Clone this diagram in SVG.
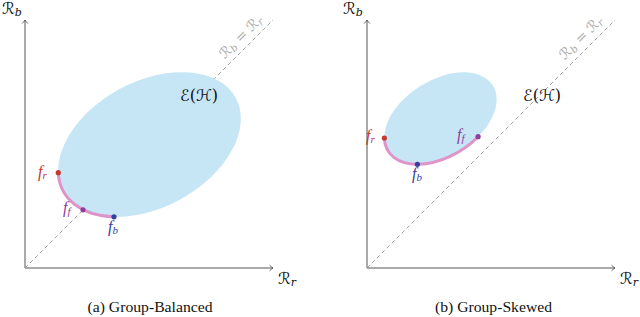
<svg xmlns="http://www.w3.org/2000/svg" width="640" height="317" viewBox="0 0 640 317">
<style>
.axis{stroke:#555;stroke-width:1;fill:none}
.diag{stroke:#9a9a9a;stroke-width:0.9;stroke-dasharray:4 3;fill:none}
.region{fill:#C6E6F6;stroke:none}
.front{stroke:#DE93C9;stroke-width:3;fill:none;stroke-linecap:round}
.math{font-family:"DejaVu Serif","DejaVu Sans",serif;font-size:16px;fill:#111}
.diaglab{font-family:"DejaVu Serif","DejaVu Sans",serif;font-size:14px;fill:#aaa}
.f{font-family:"Liberation Serif",serif;font-style:italic;font-size:16px}
.sub{font-size:11px}
.cap{font-family:"Liberation Serif",serif;font-size:14.5px;fill:#111}
.red{fill:#C4392B}.pur{fill:#8E3D9C}.blu{fill:#34409E}
</style>
<defs>
<marker id="arr" viewBox="-5 -4 6 8" markerWidth="6" markerHeight="8" refX="0" refY="0" orient="auto" markerUnits="userSpaceOnUse">
<path d="M-3.5,-2.8 Q-1,-0.6 0,0 Q-1,0.6 -3.5,2.8" fill="none" stroke="#555" stroke-width="0.9"/>
</marker>
</defs>

<g id="connectors">
<line class="axis" x1="25" y1="268" x2="25" y2="20" marker-end="url(#arr)"/>
<line class="axis" x1="25" y1="268" x2="273" y2="268" marker-end="url(#arr)"/>
<line class="diag" x1="25" y1="268" x2="273" y2="20"/>
<line class="axis" x1="367" y1="268" x2="367" y2="20" marker-end="url(#arr)"/>
<line class="axis" x1="367" y1="268" x2="615" y2="268" marker-end="url(#arr)"/>
<line class="diag" x1="367" y1="268" x2="615" y2="20"/>
</g>

<g id="panel-a">
<g id="region-a"><ellipse class="region" cx="149.5" cy="144.5" rx="98" ry="63" transform="rotate(-28.3 149.5 144.5)"/></g>
<g id="front-a"><path class="front" d="M58.25,172.7 A98,63 -28.3 0 0 114,216.8"/></g>
<g id="fr-a"><circle class="red" cx="58.25" cy="172.7" r="2.6"/><text class="f red" x="38" y="177">f<tspan class="sub" dy="2">r</tspan></text></g>
<g id="ff-a"><circle class="pur" cx="83" cy="209.8" r="2.6"/><text class="f pur" x="63" y="213">f<tspan class="sub" dy="2">f</tspan></text></g>
<g id="fb-a"><circle class="blu" cx="114" cy="216.8" r="2.6"/><text class="f blu" x="108" y="232">f<tspan class="sub" dy="2">b</tspan></text></g>
<g id="label-EH-a"><text class="math" x="180" y="101">ℰ(ℋ)</text></g>
<g id="label-Rb-a"><text class="math" x="2" y="14">ℛ<tspan class="sub" font-style="italic" dy="2">b</tspan></text></g>
<g id="label-Rr-a"><text class="math" x="278" y="284">ℛ<tspan class="sub" font-style="italic" dy="2">r</tspan></text></g>
<g id="label-diag-a"><text class="diaglab" text-anchor="middle" transform="translate(244,40) rotate(-45)">ℛ<tspan font-size="10" font-style="italic" dy="2">b</tspan><tspan dy="-2"> = ℛ</tspan><tspan font-size="10" font-style="italic" dy="2">r</tspan></text></g>
<g id="caption-a"><text class="cap" x="150" y="312" text-anchor="middle" textLength="125" lengthAdjust="spacingAndGlyphs">(a) Group-Balanced</text></g>
</g>

<g id="panel-b">
<g id="region-b"><ellipse class="region" cx="440.5" cy="118.3" rx="61.8" ry="38.1" transform="rotate(-32 440.5 118.3)"/></g>
<g id="front-b"><path class="front" d="M384.35,138 A61.8,38.1 -32 0 0 478.1,136.7"/></g>
<g id="fr-b"><circle class="red" cx="384.35" cy="138" r="2.6"/><text class="f red" x="366" y="141">f<tspan class="sub" dy="2">r</tspan></text></g>
<g id="ff-b"><circle class="pur" cx="478.1" cy="136.7" r="2.6"/><text class="f pur" x="457" y="140">f<tspan class="sub" dy="2">f</tspan></text></g>
<g id="fb-b"><circle class="blu" cx="417.4" cy="164.3" r="2.6"/><text class="f blu" x="412" y="179">f<tspan class="sub" dy="2">b</tspan></text></g>
<g id="label-EH-b"><text class="math" x="523" y="101">ℰ(ℋ)</text></g>
<g id="label-Rb-b"><text class="math" x="343" y="14">ℛ<tspan class="sub" font-style="italic" dy="2">b</tspan></text></g>
<g id="label-Rr-b"><text class="math" x="620" y="284">ℛ<tspan class="sub" font-style="italic" dy="2">r</tspan></text></g>
<g id="label-diag-b"><text class="diaglab" text-anchor="middle" transform="translate(584,41) rotate(-45)">ℛ<tspan font-size="10" font-style="italic" dy="2">b</tspan><tspan dy="-2"> = ℛ</tspan><tspan font-size="10" font-style="italic" dy="2">r</tspan></text></g>
<g id="caption-b"><text class="cap" x="493.5" y="312" text-anchor="middle" textLength="117" lengthAdjust="spacingAndGlyphs">(b) Group-Skewed</text></g>
</g>
</svg>
